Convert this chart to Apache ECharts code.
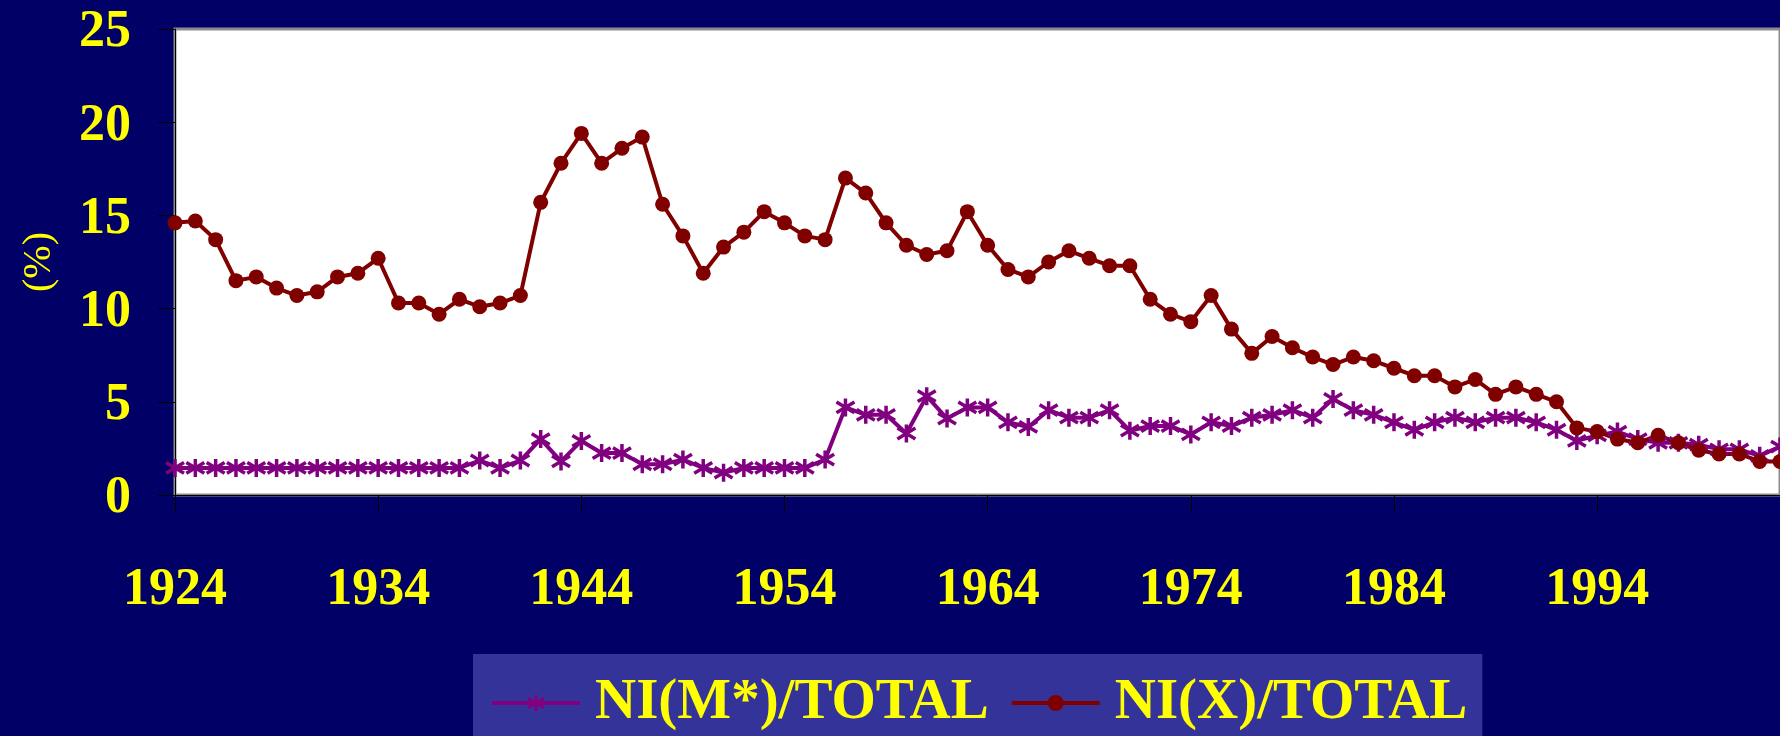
<!DOCTYPE html>
<html>
<head>
<meta charset="utf-8">
<script src="https://cdn.jsdelivr.net/npm/echarts@6/dist/echarts.min.js"></script>
<style>
  html, body { margin: 0; padding: 0; background: #000066; }
  #chart { width: 1780px; height: 736px; }
</style>
</head>
<body>
<div id="chart"></div>
<script>
// years on the x axis (one point per year)
var years = [];
for (var y = 1924; y <= 2003; y++) years.push(String(y));

// NI(M*)/TOTAL, purple stars
var niM = [
  1.45, 1.45, 1.45, 1.45, 1.45, 1.45, 1.45, 1.45, 1.45, 1.45,
  1.45, 1.45, 1.45, 1.45, 1.45, 1.85, 1.45, 1.85, 3.0, 1.8,
  2.9, 2.25, 2.25, 1.65, 1.65, 1.9, 1.45, 1.2, 1.45, 1.45,
  1.45, 1.45, 1.9, 4.7, 4.3, 4.3, 3.3, 5.3, 4.1, 4.7,
  4.7, 3.9, 3.65, 4.55, 4.15, 4.15, 4.55, 3.45, 3.7, 3.7,
  3.25, 3.9, 3.7, 4.15, 4.3, 4.55, 4.15, 5.15, 4.55, 4.3,
  3.9, 3.5, 3.9, 4.15, 3.9, 4.15, 4.15, 3.9, 3.5, 2.9,
  3.2, 3.4, 3.0, 2.8, 2.8, 2.7, 2.45, 2.45, 2.1, 2.6
];

// NI(X)/TOTAL, maroon dots
var niX = [
  14.6, 14.7, 13.7, 11.5, 11.7, 11.1, 10.7, 10.9, 11.7, 11.9,
  12.7, 10.3, 10.3, 9.7, 10.5, 10.1, 10.3, 10.7, 15.7, 17.8,
  19.4, 17.8, 18.6, 19.2, 15.6, 13.9, 11.9, 13.3, 14.1, 15.2,
  14.6, 13.9, 13.7, 17.0, 16.2, 14.6, 13.4, 12.9, 13.1, 15.2,
  13.4, 12.1, 11.7, 12.5, 13.1, 12.7, 12.3, 12.3, 10.5, 9.7,
  9.3, 10.7, 8.9, 7.6, 8.5, 7.9, 7.4, 7.0, 7.4, 7.2,
  6.8, 6.4, 6.4, 5.8, 6.2, 5.4, 5.8, 5.4, 5.0, 3.6,
  3.4, 3.0, 2.8, 3.2, 2.8, 2.4, 2.2, 2.2, 1.8, 1.8
];

var FONT = "'Liberation Serif', 'Times New Roman', serif";
var starPath = 'path://M5,0L5,10M0.7,2L9.3,8M9.3,2L0.7,8';

var chart = echarts.init(document.getElementById('chart'));
chart.setOption({
  backgroundColor: '#000066',
  animation: false,
  grid: {
    left: 175,
    top: 29,
    right: -4,
    bottom: 241,
    show: true,
    backgroundColor: '#ffffff',
    borderColor: '#8c8c8c',
    borderWidth: 3
  },
  legend: {
    left: 473,
    top: 654,
    padding: [19, 15, 60, 17],
    backgroundColor: '#333399',
    itemWidth: 88,
    itemHeight: 20,
    itemGap: 21,
    lineStyle: { width: 4 },
    itemStyle: { borderWidth: 3 },
    textStyle: {
      color: '#ffff00',
      fontFamily: FONT,
      fontWeight: 'bold',
      fontSize: 57,
      lineHeight: 60,
      padding: [0, 0, 0, 10]
    }
  },
  xAxis: {
    type: 'category',
    data: years,
    boundaryGap: false,
    axisLine: { show: true, lineStyle: { color: '#000000', width: 1 } },
    axisTick: { show: true, interval: 9, length: 18, lineStyle: { color: '#000000' } },
    axisLabel: {
      interval: 9,
      margin: 70,
      color: '#ffff00',
      fontFamily: FONT,
      fontWeight: 'bold',
      fontSize: 52
    },
    splitLine: { show: false }
  },
  yAxis: {
    type: 'value',
    min: 0,
    max: 25,
    interval: 5,
    name: '(%)',
    nameLocation: 'middle',
    nameRotate: 90,
    nameGap: 116,
    nameTextStyle: { color: '#ffff00', fontFamily: FONT, fontSize: 40 },
    axisLine: { show: true, lineStyle: { color: '#000000', width: 1 } },
    axisTick: { show: true, length: 17, lineStyle: { color: '#000000' } },
    axisLabel: {
      margin: 44,
      verticalAlign: 'top',
      lineHeight: 8,
      color: '#ffff00',
      fontFamily: FONT,
      fontWeight: 'bold',
      fontSize: 52
    },
    splitLine: { show: false }
  },
  series: [
    {
      name: 'NI(M*)/TOTAL',
      type: 'line',
      data: niM,
      symbol: starPath,
      symbolSize: [18, 18],
      showAllSymbol: true,
      lineStyle: { color: '#800080', width: 4 },
      itemStyle: { color: '#800080', borderColor: '#800080', borderWidth: 3.5 }
    },
    {
      name: 'NI(X)/TOTAL',
      type: 'line',
      data: niX,
      symbol: 'circle',
      symbolSize: 15,
      showAllSymbol: true,
      lineStyle: { color: '#800000', width: 4 },
      itemStyle: { color: '#800000', borderWidth: 0 }
    }
  ]
});
</script>
</body>
</html>
